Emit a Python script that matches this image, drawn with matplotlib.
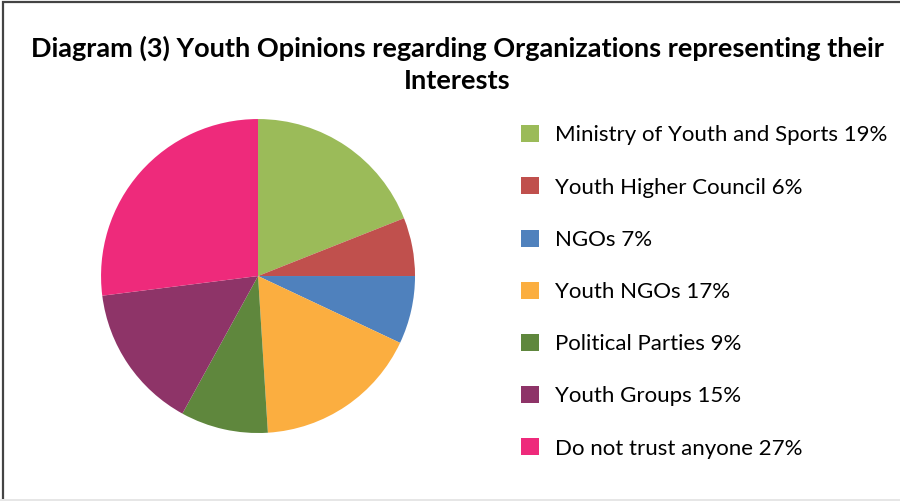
import matplotlib
matplotlib.use('Agg')
from matplotlib import pyplot as plt
from matplotlib.patches import Rectangle

title = 'Diagram (3) Youth Opinions regarding Organizations representing their\nInterests'
labels = ['Ministry of Youth and Sports', 'Youth Higher Council', 'NGOs', 'Youth NGOs',
          'Political Parties', 'Youth Groups', 'Do not trust anyone']
shares = [19, 6, 7, 17, 9, 15, 27]
colors = ['#9BBB59', '#C0504D', '#4F81BD', '#FBAE40', '#5F873D', '#8E3468', '#EE2A7B']

plt.rcParams['font.family'] = ['Lato', 'DejaVu Sans']

fig = plt.figure(figsize=(9, 5.01), dpi=100)

# frame round the chart
fig.patches.append(Rectangle((0.0035, -0.01), 1.2, 1.006, transform=fig.transFigure,
                             fill=False, edgecolor='#444444', linewidth=1.6))
fig.patches.append(Rectangle((0.0, 0.0), 1.0, 0.004, transform=fig.transFigure,
                             facecolor='#e6e6e6', edgecolor='none'))

fig.text(0.508, 0.872, title, ha='center', va='center', fontsize=19.5,
         fontweight='bold', linespacing=1.38)

ax = fig.add_axes([0.1122, 0.1357, 0.349, 0.6267])
wedges, _ = ax.pie(shares, colors=colors, startangle=90, counterclock=False,
                   wedgeprops={'linewidth': 0})
ax.set_xlim(-1, 1)
ax.set_ylim(-1, 1)
ax.set_aspect('equal')

legend_labels = ['{} {}%'.format(l, s) for l, s in zip(labels, shares)]
fig.legend(wedges, legend_labels, loc='upper left', bbox_to_anchor=(0.569, 0.768),
           frameon=False, fontsize=16, handlelength=0.8, handleheight=0.8,
           handletextpad=0.75, labelspacing=1.44, borderaxespad=0)

plt.savefig('out.png', dpi=100)
